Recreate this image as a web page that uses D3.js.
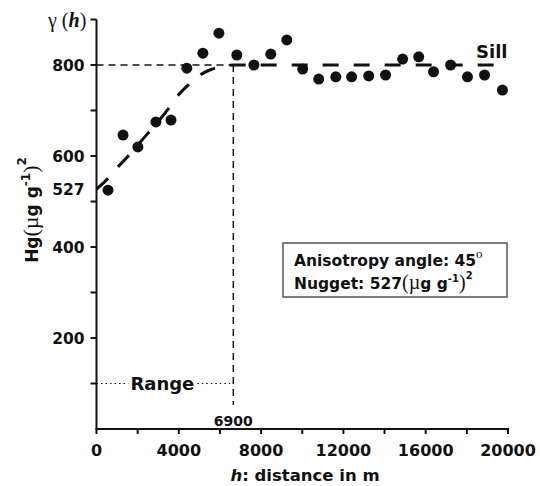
<!DOCTYPE html>
<html>
<head>
<meta charset="utf-8">
<script src="https://cdn.jsdelivr.net/npm/d3@7"></script>
<style>
  body { margin: 0; background: #fff; }
  svg text { font-family: "DejaVu Sans", sans-serif; font-weight: bold; fill: #111; }
  .serif { font-family: "Liberation Serif", serif; font-weight: normal; }
</style>
</head>
<body>
<div id="chart"></div>
<script>
// semivariograma experimental (distancia h en m, gamma en (ug g-1)^2)
var hVals = [560, 1290, 2010, 2890, 3620, 4390, 5170, 5950, 6820, 7650, 8470, 9250, 10020,
             10800, 11630, 12400, 13230, 14050, 14880, 15660, 16380, 17210, 18030, 18860, 19730];
var gammaVals = [525, 646, 620, 675, 679, 793, 826, 870, 822, 800, 824, 855, 791,
                 769, 774, 774, 776, 778, 813, 818, 785, 800, 774, 778, 745];

// modelo ajustado
var modelH = [0, 500, 1000, 1500, 2000, 2500, 3000, 3500, 4000, 4500, 5000, 5500, 6000, 6650, 19500];
var modelG = [527, 548, 574, 598, 624, 650, 676, 704, 735, 758, 777, 789, 796, 800, 800];

var xTicks = [0, 4000, 8000, 12000, 16000, 20000];
var xMinor = [2000, 6000, 10000, 14000, 18000];
var yTicks = [200, 400, 600, 800];
var yMinor = [100, 300, 500, 700, 900];

var nugget = 527, sill = 800, rangeX = 6650, rangeLabel = "6900", rangeY = 100;

var width = 540, height = 486;
var svg = d3.select("#chart").append("svg")
    .attr("width", width).attr("height", height);

var x = d3.scaleLinear().domain([0, 20000]).range([96.5, 508]);
var y = d3.scaleLinear().domain([0, 900]).range([429, 19.5]);

// ejes
svg.append("line").attr("x1", x(0)).attr("x2", x(0)).attr("y1", y(0) + 1).attr("y2", y(900))
    .attr("stroke", "#111").attr("stroke-width", 2);
svg.append("line").attr("x1", x(0) - 1).attr("x2", x(20000) + 1).attr("y1", y(0)).attr("y2", y(0))
    .attr("stroke", "#111").attr("stroke-width", 2);

svg.selectAll(".ytick").data(yTicks.concat(yMinor)).enter().append("line")
    .attr("x1", x(0) - 6).attr("x2", x(0))
    .attr("y1", d => y(d)).attr("y2", d => y(d))
    .attr("stroke", "#111").attr("stroke-width", 2);
svg.selectAll(".ylab").data(yTicks.concat([nugget])).enter().append("text")
    .attr("x", x(0) - 12).attr("y", d => y(d) + 5.5)
    .attr("text-anchor", "end").style("font-size", "15.5px")
    .text(d => d);

svg.selectAll(".xtick").data(xTicks.concat(xMinor)).enter().append("line")
    .attr("x1", d => x(d)).attr("x2", d => x(d))
    .attr("y1", y(0)).attr("y2", y(0) + 5)
    .attr("stroke", "#111").attr("stroke-width", 2);
svg.selectAll(".xlab").data(xTicks).enter().append("text")
    .attr("x", d => x(d)).attr("y", y(0) + 27)
    .attr("text-anchor", "middle").style("font-size", "16px")
    .text(d => d);

// lineas de referencia
svg.append("line").attr("x1", x(0)).attr("x2", x(rangeX)).attr("y1", y(sill)).attr("y2", y(sill))
    .attr("stroke", "#111").attr("stroke-width", 1.5).attr("stroke-dasharray", "7,5");
svg.append("line").attr("x1", x(rangeX)).attr("x2", x(rangeX)).attr("y1", y(sill)).attr("y2", y(0) - 24)
    .attr("stroke", "#111").attr("stroke-width", 1.5).attr("stroke-dasharray", "7,5");
svg.append("text").attr("x", x(rangeX)).attr("y", y(0) - 3)
    .attr("text-anchor", "middle").style("font-size", "14px").text(rangeLabel);

// Range punteado
svg.append("line").attr("x1", x(0)).attr("x2", x(1550)).attr("y1", y(rangeY)).attr("y2", y(rangeY))
    .attr("stroke", "#111").attr("stroke-width", 1.2).attr("stroke-dasharray", "1.5,3");
svg.append("line").attr("x1", x(4900)).attr("x2", x(rangeX)).attr("y1", y(rangeY)).attr("y2", y(rangeY))
    .attr("stroke", "#111").attr("stroke-width", 1.2).attr("stroke-dasharray", "1.5,3");
svg.append("text").attr("x", x(3200)).attr("y", y(rangeY) + 6.5)
    .attr("text-anchor", "middle").style("font-size", "18px").text("Range");

// modelo
var line = d3.line().x((d, i) => x(modelH[i])).y(d => y(d)).curve(d3.curveMonotoneX);
svg.append("path").datum(modelG).attr("d", line)
    .attr("fill", "none").attr("stroke", "#111").attr("stroke-width", 3)
    .attr("stroke-dasharray", "16,15");

// puntos
svg.selectAll(".pt").data(gammaVals).enter().append("circle")
    .attr("cx", (d, i) => x(hVals[i])).attr("cy", d => y(d)).attr("r", 5.5)
    .attr("fill", "#111");

svg.append("text").attr("x", 476).attr("y", 58).style("font-size", "18px").text("Sill");

// titulo eje y superior
var g = svg.append("text").attr("x", 48).attr("y", 27).attr("class", "serif").style("font-size", "20px");
g.append("tspan").text("\u03b3 (");
g.append("tspan").style("font-style", "italic").style("font-weight", "bold").text("h");
g.append("tspan").text(")");

// titulo eje y
var yt = svg.append("text").attr("transform", "translate(38,210) rotate(-90)")
    .attr("text-anchor", "middle").style("font-size", "17px");
yt.append("tspan").text("Hg");
yt.append("tspan").attr("class", "serif").style("font-size", "22px").text("(\u00b5");
yt.append("tspan").text("g g");
yt.append("tspan").attr("dy", -8).style("font-size", "12px").text("-1");
yt.append("tspan").attr("dy", 8).attr("class", "serif").style("font-size", "22px").text(")");
yt.append("tspan").attr("dy", -12).style("font-size", "12px").text("2");

// caja
svg.append("rect").attr("x", 283).attr("y", 243).attr("width", 224).attr("height", 54)
    .attr("fill", "#fff").attr("stroke", "#555").attr("stroke-width", 1.5);
var t1 = svg.append("text").attr("x", 294).attr("y", 266).style("font-size", "15.5px");
t1.append("tspan").text("Anisotropy angle: 45");
t1.append("tspan").attr("dy", -8).attr("class", "serif").style("font-size", "13px").text("o");
var t2 = svg.append("text").attr("x", 294).attr("y", 289).style("font-size", "15.5px");
t2.append("tspan").text("Nugget: 527");
t2.append("tspan").attr("class", "serif").style("font-size", "20px").text("(\u00b5");
t2.append("tspan").text("g g");
t2.append("tspan").attr("dy", -7).style("font-size", "10px").text("-1");
t2.append("tspan").attr("dy", 7).attr("class", "serif").style("font-size", "20px").text(")");
t2.append("tspan").attr("dy", -10).style("font-size", "10px").text("2");

// titulo eje x
var xt = svg.append("text").attr("x", 305).attr("y", 481).attr("text-anchor", "middle").style("font-size", "16.5px");
xt.append("tspan").style("font-style", "italic").text("h");
xt.append("tspan").text(": distance in m");
</script>
</body>
</html>
